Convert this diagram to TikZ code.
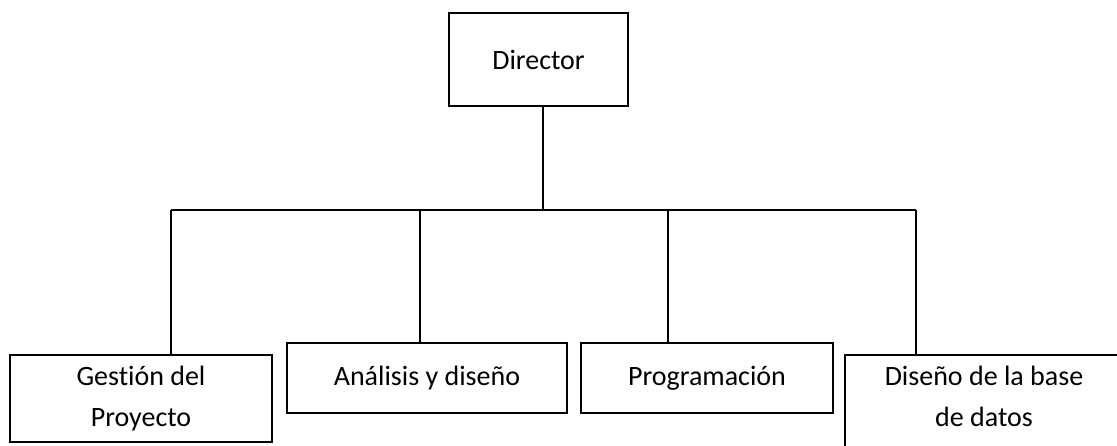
\documentclass[tikz,border=0pt]{standalone}
\usepackage{fontspec}
\setmainfont{Carlito}[Ligatures={NoCommon}]
\begin{document}
\begin{tikzpicture}[x=1pt,y=-1pt,
  box/.style={draw=black, line width=1.6pt, fill=white, inner sep=0pt, align=center,
              font=\fontsize{28}{41}\selectfont},
  wire/.style={draw=black, line width=1.6pt}]
\useasboundingbox (0,0) rectangle (1117,445);
\clip (0,0) rectangle (1117,445);
% junction points
\coordinate (hub) at (543,210);
\coordinate (d1) at (171,210);
\coordinate (d2) at (420,210);
\coordinate (d3) at (668,210);
\coordinate (d4) at (916,210);
% boxes
\node[box, minimum width=179pt, minimum height=93pt] (dir) at (538.5,59.5) {Director};
\node[box, minimum width=262pt, minimum height=87pt] (ges) at (141,398.5) {Gestión del\\Proyecto};
\node[box, minimum width=280pt, minimum height=70pt] (ana) at (427,378) {Análisis y diseño};
\node[box, minimum width=252pt, minimum height=70pt] (pro) at (707,378) {Programación};
\node[box, minimum width=278pt, minimum height=95pt, text depth=13pt] (dis) at (984,402.5) {Diseño de la base\\de datos};
% connectors
\draw[wire] (dir.south -| hub) -- (hub);
\draw[wire] (d1) -- (d4);
\draw[wire] (d1) -- (d1 |- ges.north);
\draw[wire] (d2) -- (d2 |- ana.north);
\draw[wire] (d3) -- (d3 |- pro.north);
\draw[wire] (d4) -- (d4 |- dis.north);
\end{tikzpicture}
\end{document}
